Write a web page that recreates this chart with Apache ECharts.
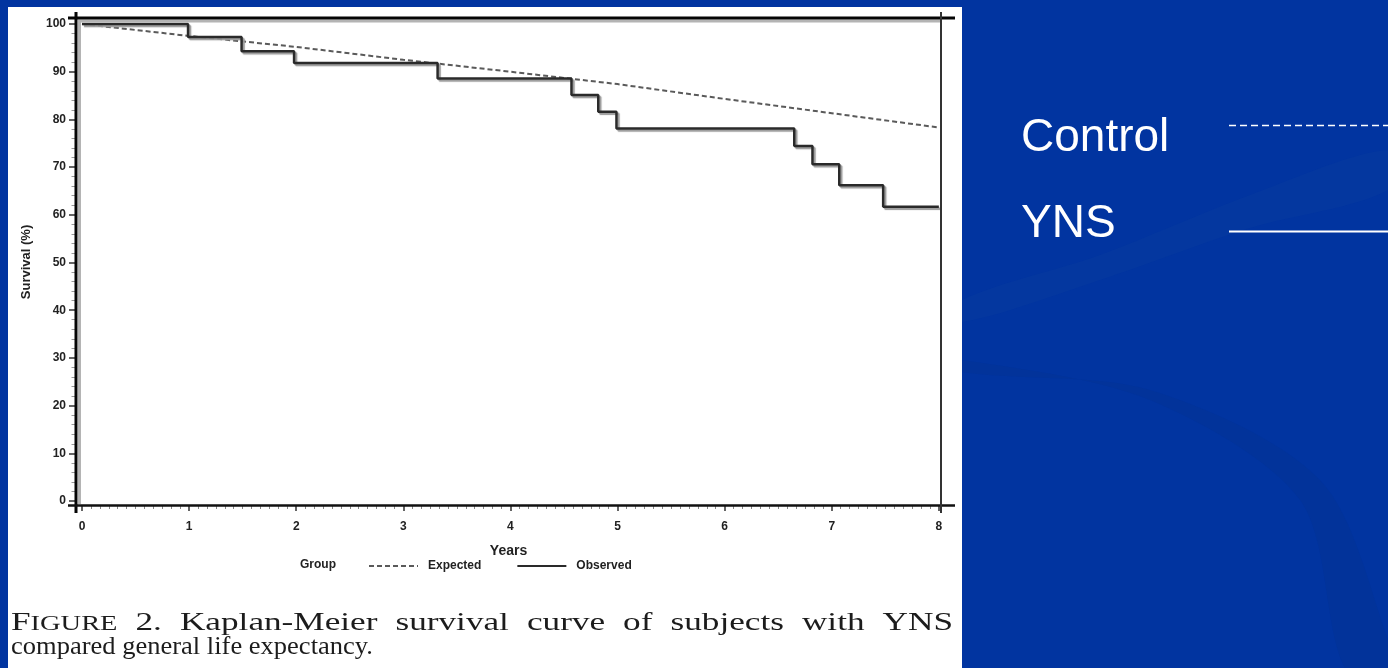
<!DOCTYPE html>
<html>
<head>
<meta charset="utf-8">
<script src="https://cdn.jsdelivr.net/npm/echarts@6/dist/echarts.min.js"></script>
<style>
html,body{margin:0;padding:0;background:#0134a0;}
#chart{width:1388px;height:668px;}
</style>
</head>
<body>
<div id="chart"></div>
<script>
// ---- data ----
const years = [0, 1, 2, 3, 4, 5, 6, 7, 8];
const expectedSurvival = [100, 97.5, 95.2, 92.5, 90.0, 87.4, 84.3, 81.3, 78.3];
const observedTimes = [0, 0.99, 1.49, 1.98, 3.32, 4.57, 4.82, 4.99, 6.65, 6.82, 7.07, 7.48, 8.0];
const observedSurvival = [100, 97.3, 94.3, 91.8, 88.6, 85.1, 81.6, 78.1, 74.4, 70.6, 66.2, 61.7, 61.7];
const xTickLabels = [0, 1, 2, 3, 4, 5, 6, 7, 8];
const yTickLabels = [0, 10, 20, 30, 40, 50, 60, 70, 80, 90, 100];
const seriesNames = ['Expected', 'Observed'];
const sideLabels = ['Control', 'YNS'];
const captionLine1 = ['FIGURE', '2.', 'Kaplan-Meier', 'survival', 'curve', 'of', 'subjects', 'with', 'YNS'];
const captionLine2 = 'compared general life expectancy.';

// minor tick positions (monthly on x, every 2 % on y)
const xMinor = [];
for (let m = 0; m <= 96; m++) if (m % 12) xMinor.push(m / 12);
const yMinor = [];
for (let v = 0; v <= 100; v += 2) if (v % 10) yMinor.push(v);

// ---- caption layout (justified first line) ----
const capFont = '"Liberation Serif", "DejaVu Serif", serif';
const capSize = 26, scSize = 21;
const mctx = document.createElement('canvas').getContext('2d');
function w(txt, size) { mctx.font = size + 'px ' + capFont; return mctx.measureText(txt).width; }
const capLeft = 11, capRight = 953, capY1 = 623, capY2 = 647, wordGap = 18;
const widths = captionLine1.map((t, i) => i === 0 ? w('F', capSize) + w('IGURE', scSize) : w(t, capSize));
const totalW = widths.reduce((a, b) => a + b, 0);
const sx1 = (capRight - capLeft - wordGap * (captionLine1.length - 1)) / totalW;
const captionGraphics = [];
let cx = capLeft;
const capStyle = (t, s) => ({text: t, fontSize: s, fontFamily: capFont, fill: '#1c1c1c', verticalAlign: 'middle'});
captionLine1.forEach((t, i) => {
  if (i === 0) {
    captionGraphics.push({type: 'text', z: 12, x: cx, y: capY1, scaleX: sx1, style: capStyle('F', capSize)});
    captionGraphics.push({type: 'text', z: 12, x: cx + w('F', capSize) * sx1, y: capY1 + 1.5, scaleX: sx1, style: capStyle('IGURE', scSize)});
  } else {
    captionGraphics.push({type: 'text', z: 12, x: cx, y: capY1, scaleX: sx1, style: capStyle(t, capSize)});
  }
  cx += widths[i] * sx1 + wordGap;
});
captionGraphics.push({type: 'text', z: 12, x: capLeft, y: capY2, scaleX: 1.02, style: capStyle(captionLine2, capSize)});

const sansFam = '"Liberation Sans", Arial, sans-serif';
const sansBold = {fontFamily: sansFam, fontWeight: 'bold', color: '#222'};
const X_MIN = -0.056, X_MAX = 8.02, Y_MIN = -1.05, Y_MAX = 101.26;

const chart = echarts.init(document.getElementById('chart'), null, {renderer: 'canvas'});
chart.setOption({
  backgroundColor: '#0134a0',
  animation: false,
  grid: {left: 76, right: 447, top: 18, bottom: 162, containLabel: false, outerBoundsMode: 'none'},
  xAxis: [{
    type: 'value', min: X_MIN, max: X_MAX,
    name: 'Years', nameLocation: 'middle', nameGap: 38,
    nameTextStyle: Object.assign({fontSize: 14}, sansBold),
    axisLine: {show: false, onZero: false},
    axisTick: {show: true, inside: false, length: 5, customValues: xTickLabels, lineStyle: {color: '#333', width: 1.5}},
    axisLabel: Object.assign({fontSize: 12, margin: 15, inside: false, customValues: xTickLabels}, sansBold),
    splitLine: {show: false}
  }, {
    type: 'value', min: X_MIN, max: X_MAX, position: 'bottom', gridIndex: 0,
    axisLine: {show: false, onZero: false},
    axisTick: {show: true, inside: false, length: 3, customValues: xMinor, lineStyle: {color: '#888', width: 1}},
    axisLabel: {show: false},
    splitLine: {show: false}
  }],
  yAxis: [{
    type: 'value', min: Y_MIN, max: Y_MAX,
    name: 'Survival (%)', nameLocation: 'middle', nameGap: 43, nameRotate: 90,
    nameTextStyle: Object.assign({fontSize: 13}, sansBold),
    axisLine: {show: false, onZero: false},
    axisTick: {show: true, inside: false, length: 7, customValues: yTickLabels, lineStyle: {color: '#333', width: 1.5}},
    axisLabel: Object.assign({fontSize: 12, margin: 10, inside: false, customValues: yTickLabels}, sansBold),
    splitLine: {show: false}
  }, {
    type: 'value', min: Y_MIN, max: Y_MAX, position: 'left', gridIndex: 0, offset: 0,
    axisLine: {show: false, onZero: false},
    axisTick: {show: true, inside: false, length: 4.5, customValues: yMinor, lineStyle: {color: '#999', width: 1}},
    axisLabel: {show: false},
    splitLine: {show: false}
  }],
  legend: {
    data: seriesNames,
    left: 368, top: 560, padding: 0,
    itemWidth: 49, itemHeight: 10, itemGap: 35,
    itemStyle: {opacity: 0},
    textStyle: Object.assign({fontSize: 12, padding: [0, 0, 0, 5]}, sansBold)
  },
  series: [
    {
      name: seriesNames[0], type: 'line', xAxisIndex: 0, yAxisIndex: 0,
      data: years.map((x, i) => [x, expectedSurvival[i]]),
      symbol: 'none', showSymbol: false,
      lineStyle: {color: '#5a5a5a', width: 2, type: [5, 3]},
      itemStyle: {color: '#5a5a5a'},
      z: 3
    },
    {
      name: seriesNames[1], type: 'line', step: 'end', xAxisIndex: 0, yAxisIndex: 0,
      data: observedTimes.map((x, i) => [x, observedSurvival[i]]),
      symbol: 'none', showSymbol: false,
      lineStyle: {color: '#2a2a2a', width: 2.5, shadowColor: '#9a9a9a', shadowBlur: 1, shadowOffsetX: 2, shadowOffsetY: 2},
      itemStyle: {color: '#2a2a2a'},
      z: 4
    }
  ],
  graphic: [
    // background swooshes (subtle)
    {type: 'polygon', z: -20, silent: true, shape: {smooth: 0.3, points: [[962, 300], [1100, 255], [1250, 195], [1388, 150], [1388, 190], [1250, 228], [1100, 280], [962, 322]]}, style: {fill: '#04379f'}},
    {type: 'polygon', z: -20, silent: true, shape: {smooth: 0.3, points: [[962, 360], [1150, 400], [1300, 500], [1345, 668], [1388, 668], [1388, 640], [1320, 480], [1150, 390], [962, 372]]}, style: {fill: '#02339a'}},
    // white panel
    {type: 'rect', z: -10, silent: true, shape: {x: 8, y: 7, width: 954, height: 661}, style: {fill: '#ffffff'}},
    // frame lines
    {type: 'line', z: 10, shape: {x1: 79.5, y1: 20, x2: 79.5, y2: 504}, style: {stroke: '#b4b4b4', lineWidth: 3}},
    {type: 'line', z: 10, shape: {x1: 78, y1: 21, x2: 940, y2: 21}, style: {stroke: '#b4b4b4', lineWidth: 3}},
    {type: 'line', z: 11, shape: {x1: 68, y1: 18, x2: 955, y2: 18}, style: {stroke: '#050505', lineWidth: 3}},
    {type: 'line', z: 11, shape: {x1: 76, y1: 12, x2: 76, y2: 513}, style: {stroke: '#050505', lineWidth: 3}},
    {type: 'line', z: 11, shape: {x1: 68, y1: 505.5, x2: 955, y2: 505.5}, style: {stroke: '#111', lineWidth: 2.5}},
    {type: 'line', z: 11, shape: {x1: 941, y1: 12, x2: 941, y2: 513}, style: {stroke: '#333', lineWidth: 2}},
    // legend title
    {type: 'text', z: 12, x: 300, y: 565, style: {text: 'Group', fontSize: 12, fontWeight: 'bold', fontFamily: sansFam, fill: '#222', verticalAlign: 'middle'}},
    // right side labels
    {type: 'text', z: 12, x: 1021, y: 138, style: {text: sideLabels[0], fontSize: 46, fontFamily: sansFam, fill: '#ffffff', verticalAlign: 'middle'}},
    {type: 'text', z: 12, x: 1021, y: 224, style: {text: sideLabels[1], fontSize: 46, fontFamily: sansFam, fill: '#ffffff', verticalAlign: 'middle'}},
    {type: 'line', z: 12, shape: {x1: 1229, y1: 125.5, x2: 1388, y2: 125.5}, style: {stroke: '#ffffff', lineWidth: 1.6, lineDash: [7, 4]}},
    {type: 'line', z: 12, shape: {x1: 1229, y1: 231.5, x2: 1388, y2: 231.5}, style: {stroke: '#ffffff', lineWidth: 2}}
  ].concat(captionGraphics)
});
</script>
</body>
</html>
